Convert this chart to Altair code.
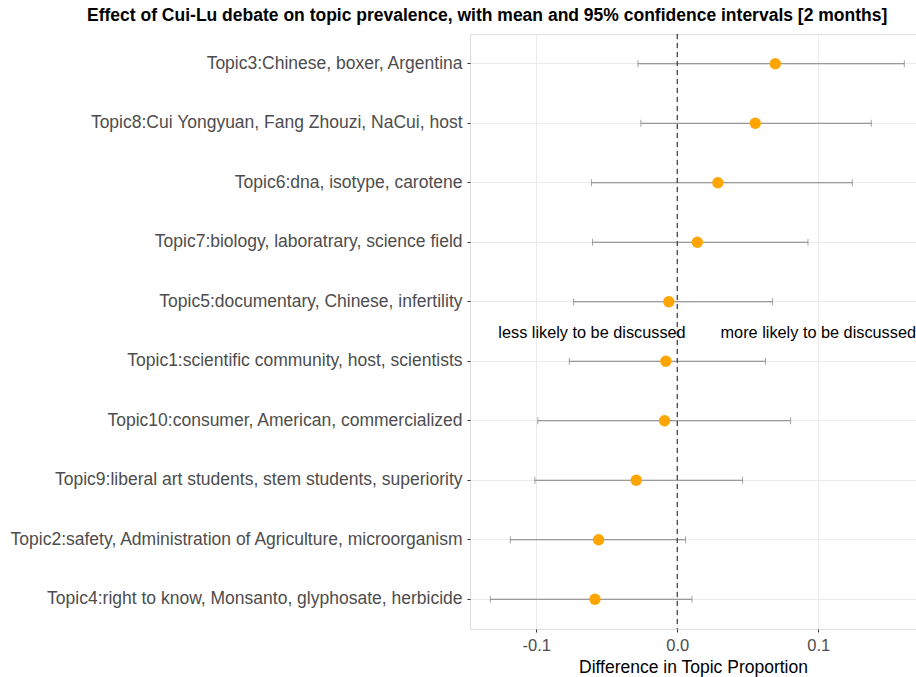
import altair as alt
import pandas as pd

# Topic labels, top to bottom
topics = [
    "Topic3:Chinese, boxer, Argentina",
    "Topic8:Cui Yongyuan, Fang Zhouzi, NaCui, host",
    "Topic6:dna, isotype, carotene",
    "Topic7:biology, laboratrary, science field",
    "Topic5:documentary, Chinese, infertility",
    "Topic1:scientific community, host, scientists",
    "Topic10:consumer, American, commercialized",
    "Topic9:liberal art students, stem students, superiority",
    "Topic2:safety, Administration of Agriculture, microorganism",
    "Topic4:right to know, Monsanto, glyphosate, herbicide",
]
means = [0.0695, 0.0553, 0.0288, 0.0142, -0.0060, -0.0081, -0.0090, -0.0291, -0.0558, -0.0584]
lower = [-0.0279, -0.0258, -0.0608, -0.0601, -0.0735, -0.0766, -0.0989, -0.1010, -0.1184, -0.1326]
upper = [0.1610, 0.1376, 0.1241, 0.0927, 0.0676, 0.0626, 0.0804, 0.0463, 0.0059, 0.0104]

notes = ["less likely to be discussed", "more likely to be discussed"]
note_x = [-0.0605, 0.100]
note_row = ["Topic1:scientific community, host, scientists"] * 2

df = pd.DataFrame({"topic": topics, "mean": means, "lo": lower, "hi": upper})
notes_df = pd.DataFrame({"label": notes, "x": note_x, "topic": note_row})

FONT = "Liberation Sans"
x_scale = alt.Scale(domain=[-0.147, 0.1693], nice=False, zero=False)
y_enc = alt.Y(
    "topic:N",
    sort=topics,
    title=None,
    scale=alt.Scale(paddingInner=0, paddingOuter=0),
    axis=alt.Axis(
        labelFont=FONT, labelFontSize=17.5, labelColor="#4d4d4d",
        tickColor="#333333", tickSize=3, labelPadding=5,
        domain=False, grid=True, gridColor="#ebebeb", labelLimit=600,
    ),
)

base = alt.Chart(df)

# hyphen-minus tick labels
x_label_expr = "(datum.value < 0 ? '-' : '') + format(abs(datum.value), '.1f')"

ci = base.mark_rule(color="#808080", strokeWidth=1).encode(
    x=alt.X(
        "lo:Q", scale=x_scale,
        title="Difference in Topic Proportion",
        axis=alt.Axis(
            values=[-0.1, 0.0, 0.1], labelExpr=x_label_expr,
            labelFont=FONT, labelFontSize=16.5, labelColor="#4d4d4d",
            titleFont=FONT, titleFontSize=17.5, titleColor="#000000",
            titleFontWeight="normal", titlePadding=5,
            tickColor="#333333", tickSize=3, labelPadding=5,
            domain=False, grid=True, gridColor="#ebebeb",
        ),
    ),
    x2="hi:Q",
    y=y_enc,
)

cap_lo = base.mark_tick(color="#808080", thickness=1, size=7, orient="vertical").encode(
    x=alt.X("lo:Q", scale=x_scale), y=alt.Y("topic:N", sort=topics)
)
cap_hi = base.mark_tick(color="#808080", thickness=1, size=7, orient="vertical").encode(
    x=alt.X("hi:Q", scale=x_scale), y=alt.Y("topic:N", sort=topics)
)

zero_line = alt.Chart(pd.DataFrame({"z": [0.0]})).mark_rule(
    color="#444444", strokeDash=[5, 4], strokeWidth=1.3
).encode(x=alt.X("z:Q", scale=x_scale))

points = base.mark_point(filled=True, shape="circle", size=130, color="#FFA500", opacity=1).encode(
    x=alt.X("mean:Q", scale=x_scale), y=alt.Y("topic:N", sort=topics)
)

labels = alt.Chart(notes_df).mark_text(
    font=FONT, fontSize=16.3, color="#000000", yOffset=-28, baseline="middle"
).encode(
    x=alt.X("x:Q", scale=x_scale),
    y=alt.Y("topic:N", sort=topics),
    text="label:N",
)

chart = (
    alt.layer(ci, cap_lo, cap_hi, zero_line, points, labels)
    .properties(
        width=446,
        height=595,
        autosize=alt.AutoSizeParams(type="none"),
        padding={"left": 470, "top": 34, "right": 0, "bottom": 48},
        title=alt.TitleParams(
            "Effect of Cui-Lu debate on topic prevalence, with mean and 95% confidence intervals [2 months]",
            font=FONT, fontSize=17.5, fontWeight="bold", color="#000000",
            anchor="start", frame="group", dx=-383, offset=9,
        ),
    )
    .configure_view(stroke="#333333", strokeWidth=1)
    .configure(background="white")
)

chart.save("out.html", embed_options={"renderer": "svg", "actions": False})
